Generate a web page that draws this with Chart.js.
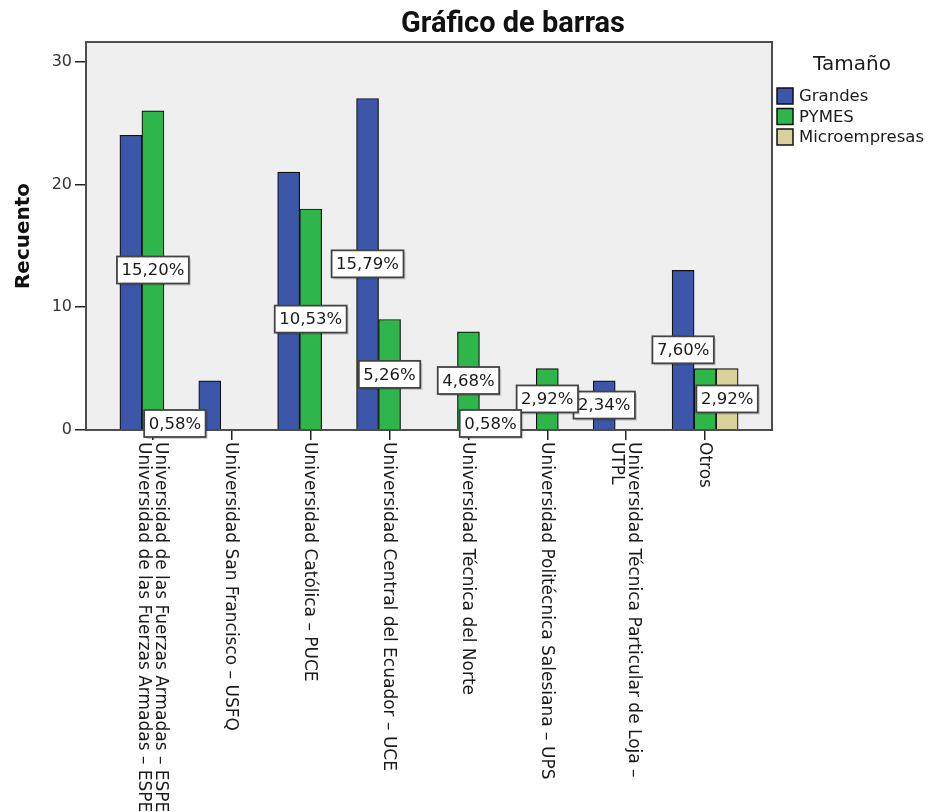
<!DOCTYPE html>
<html>
<head>
<meta charset="utf-8">
<script src="https://cdn.jsdelivr.net/npm/chart.js@4.4.0/dist/chart.umd.min.js"></script>
<style>
  html, body {margin: 0; padding: 0; background: #fff;}
  #wrap {width: 931px; height: 812px;}
</style>
</head>
<body>
<div id="wrap"><canvas id="chart"></canvas></div>
<script>
// categories (multi-line labels kept as arrays of lines)
const universities = [
  ['Universidad de las Fuerzas Armadas – ESPE', 'Universidad de las Fuerzas Armadas – ESPE'],
  ['Universidad San Francisco – USFQ'],
  ['Universidad Católica – PUCE'],
  ['Universidad Central del Ecuador – UCE'],
  ['Universidad Técnica del Norte'],
  ['Universidad Politécnica Salesiana – UPS'],
  ['Universidad Técnica Particular de Loja –', 'UTPL'],
  ['Otros']
];

// counts per company size
const grandes = [24, 4, 21, 27, 0, 0, 4, 13];
const pymes = [26, 0, 18, 9, 8, 5, 0, 5];
const microempresas = [1, 0, 0, 0, 1, 0, 0, 5];

// percentage labels shown on the bars (null = no label)
const grandesPct = [null, null, null, '15,79%', null, null, '2,34%', '7,60%'];
const pymesPct = ['15,20%', null, '10,53%', '5,26%', '4,68%', '2,92%', null, null];
const microPct = ['0,58%', null, null, null, '0,58%', null, null, '2,92%'];

const yTicks = [0, 10, 20, 30];

const chartTitle = 'Gráfico de barras';
const legendTitle = 'Tamaño';
const yTitle = 'Recuento';

const toPoints = (values) => values.map((v, i) => ({x: i, y: v}));

const barsPlugin = {
  id: `spssLook`,
  beforeDatasetsDraw(chart) {
    const {ctx, chartArea: a} = chart;
    ctx.save();
    ctx.fillStyle = `#efefef`;
    ctx.fillRect(a.left, a.top, a.right - a.left, a.bottom - a.top);
    ctx.restore();
  },
  afterDatasetsDraw(chart) {
    const {ctx, chartArea: a} = chart;
    ctx.save();
    ctx.strokeStyle = `#4d4d4d`;
    ctx.lineWidth = 2;
    ctx.strokeRect(a.left, a.top, a.right - a.left, a.bottom - a.top);
    ctx.restore();
  },
  afterDraw(chart) {
    const {ctx, chartArea: a} = chart;
    const xScale = chart.scales.x;

    // title
    ctx.save();
    ctx.fillStyle = `#111`;
    ctx.font = `bold 29px Roboto`;
    ctx.textAlign = `center`;
    ctx.textBaseline = `alphabetic`;
    ctx.fillText(chartTitle, 513, 32);
    ctx.restore();

    // category labels, rotated clockwise
    ctx.save();
    ctx.fillStyle = `#1a1a1a`;
    ctx.font = `17px "DejaVu Sans"`;
    ctx.textAlign = `left`;
    ctx.textBaseline = `middle`;
    const lh = 17;
    universities.forEach((lines, i) => {
      const x = xScale.getPixelForValue(i);
      ctx.save();
      ctx.translate(x, a.bottom + 12);
      ctx.rotate(Math.PI / 2);
      lines.forEach((line, k) => {
        ctx.fillText(line, 0, (k - (lines.length - 1) / 2) * lh + 1);
      });
      ctx.restore();
    });
    ctx.restore();

    // percentage boxes
    const pctSets = [grandesPct, pymesPct, microPct];
    ctx.save();
    ctx.font = `16.5px "DejaVu Sans"`;
    ctx.textAlign = `center`;
    ctx.textBaseline = `middle`;
    pctSets.forEach((labels, d) => {
      const meta = chart.getDatasetMeta(d);
      labels.forEach((text, i) => {
        if (!text) {
          return;
        }
        const bar = meta.data[i];
        const cx = bar.x;
        const cy = (bar.y + bar.base) / 2;
        const w = ctx.measureText(text).width + 9;
        const h = 27;
        ctx.fillStyle = `rgba(0,0,0,0.18)`;
        ctx.fillRect(cx - w / 2 + 2, cy - h / 2 + 2, w, h);
        ctx.fillStyle = `#fff`;
        ctx.fillRect(cx - w / 2, cy - h / 2, w, h);
        ctx.strokeStyle = `#444`;
        ctx.lineWidth = 1.8;
        ctx.strokeRect(cx - w / 2, cy - h / 2, w, h);
        ctx.fillStyle = `#1a1a1a`;
        ctx.fillText(text, cx, cy + 1);
      });
    });
    ctx.restore();

    // legend
    ctx.save();
    ctx.fillStyle = `#1a1a1a`;
    ctx.font = `20px "DejaVu Sans"`;
    ctx.textAlign = `center`;
    ctx.textBaseline = `middle`;
    ctx.fillText(legendTitle, 852, 65);
    ctx.font = `16.5px "DejaVu Sans"`;
    ctx.textAlign = `left`;
    chart.data.datasets.forEach((ds, d) => {
      const top = 88 + d * 20.5;
      ctx.fillStyle = ds.backgroundColor;
      ctx.fillRect(777, top, 16, 16);
      ctx.strokeStyle = `#111`;
      ctx.lineWidth = 1.5;
      ctx.strokeRect(777, top, 16, 16);
      ctx.fillStyle = `#1a1a1a`;
      ctx.fillText(ds.label, 799, top + 9);
    });
    ctx.restore();
  }
};

const ctx = document.getElementById(`chart`);
new Chart(ctx, {
  type: `bar`,
  data: {
    datasets: [
      {label: `Grandes`, data: toPoints(grandes), backgroundColor: `#3c56a9`},
      {label: `PYMES`, data: toPoints(pymes), backgroundColor: `#2fb64a`},
      {label: `Microempresas`, data: toPoints(microempresas), backgroundColor: `#d8d19b`}
    ]
  },
  options: {
    responsive: true,
    maintainAspectRatio: false,
    animation: false,
    devicePixelRatio: 1,
    layout: {padding: {top: 42, right: 159, left: 0, bottom: 0}},
    datasets: {
      bar: {
        barThickness: 22,
        borderColor: `#111`,
        borderWidth: 1.2,
        borderSkipped: `bottom`
      }
    },
    plugins: {
      legend: {display: false},
      title: {display: false},
      tooltip: {enabled: false}
    },
    scales: {
      x: {
        type: `linear`,
        offset: false,
        min: -0.848,
        max: 7.848,
        border: {display: false},
        grid: {offset: false, drawOnChartArea: false, drawTicks: true, tickLength: 10, color: `#222`, lineWidth: 1.5},
        ticks: {stepSize: 1, includeBounds: false, callback: () => ``},
        afterFit(scale) {
          scale.height = 382;
        }
      },
      y: {
        min: 0,
        max: 31.6,
        border: {display: false},
        grid: {drawOnChartArea: false, drawTicks: true, tickLength: 11, color: `#222`, lineWidth: 1.5},
        afterBuildTicks(scale) {
          scale.ticks = yTicks.map((v) => ({value: v}));
        },
        ticks: {
          padding: 3,
          color: `#333`,
          font: {family: `DejaVu Sans`, size: 16}
        },
        title: {
          display: true,
          text: yTitle,
          color: `#111`,
          font: {family: `DejaVu Sans`, size: 20, weight: `bold`},
          padding: {top: 12, bottom: 0}
        },
        afterFit(scale) {
          scale.width = 86;
        }
      }
    }
  },
  plugins: [barsPlugin]
});
</script>
</body>
</html>
